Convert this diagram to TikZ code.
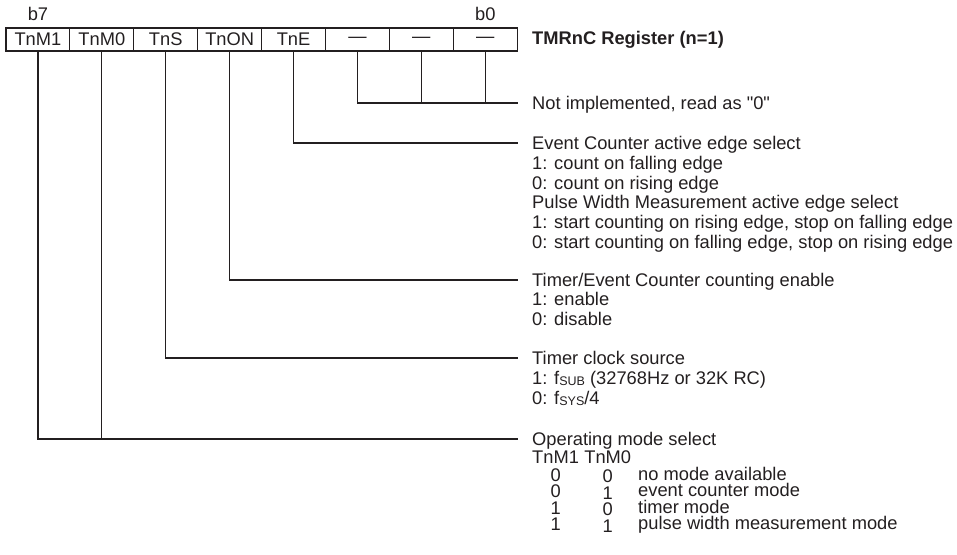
\documentclass[tikz,border=0pt]{standalone}
\usepackage{fontspec}
\setmainfont{Liberation Sans}
\usetikzlibrary{positioning}
\definecolor{regink}{HTML}{231F20}
\newcommand{\smallsub}[1]{\raisebox{-1.2pt}{\fontsize{12.5}{12.5}\selectfont #1}}

\tikzset{
  bitcell/.style={draw=regink, line width=1.1pt, minimum width=63.9pt, minimum height=23pt,
                  inner sep=0pt, outer sep=0pt, text=regink},
  lead/.style={draw=regink, line width=1.1pt},
  desc/.style={anchor=base west, align=left, inner sep=0pt, text=regink},
  descblock/.style={anchor=north west, align=left, inner sep=0pt, text=regink},
  digit/.style={anchor=base, inner sep=0pt, text=regink},
}

\begin{document}
\begin{tikzpicture}[x=1pt, y=-1pt, font=\fontsize{18.3}{19.7}\selectfont]
  \useasboundingbox (0,0) rectangle (957,554);

  % the register, b7 ... b0
  \node[bitcell] (tnm1) at (37.95,39.5)  {TnM1};
  \node[bitcell] (tnm0) at (101.85,39.5) {TnM0};
  \node[bitcell] (tns)  at (165.75,39.5) {TnS};
  \node[bitcell] (tnon) at (229.65,39.5) {TnON};
  \node[bitcell] (tne)  at (293.55,39.5) {TnE};
  \node[bitcell] (nb2)  at (357.45,39.5) {\textemdash};
  \node[bitcell] (nb1)  at (421.35,39.5) {\textemdash};
  \node[bitcell] (nb0)  at (485.25,39.5) {\textemdash};

  \node[text=regink] (b7) at (37.95,13.5)  {b7};
  \node[text=regink] (b0) at (485.25,13.5) {b0};
  \node[anchor=west, inner sep=0pt, text=regink, font=\fontsize{18.3}{19.7}\selectfont\bfseries]
    (title) at (532,39.5) {TMRnC Register (n=1)};

  % free ends of the leads
  \coordinate (niend) at (518,103);
  \coordinate (teend) at (518,143);
  \coordinate (onend) at (518,280);
  \coordinate (tsend) at (518,358);
  \coordinate (mdend) at (518,439);

  % unused bits
  \draw[lead] (nb2.south) |- (niend);
  \draw[lead] (nb1.south) -- (nb1.south |- niend);
  \draw[lead] (nb0.south) -- (nb0.south |- niend);
  \node[desc] (nidesc) at (532,109.5) {Not implemented, read as \textquotedbl 0\textquotedbl};

  % edge select
  \draw[lead] (tne.south) |- (teend);
  \node[descblock] (tedesc) at (532,136.3) {Event Counter active edge select\\
    1: count on falling edge\\
    0: count on rising edge\\
    Pulse Width Measurement active edge select\\
    1: start counting on rising edge, stop on falling edge\\
    0: start counting on falling edge, stop on rising edge};

  % counting enable
  \draw[lead] (tnon.south) |- (onend);
  \node[descblock] (ondesc) at (532,272.8) {Timer/Event Counter counting enable\\
    1: enable\\
    0: disable};

  % clock source
  \draw[lead] (tns.south) |- (tsend);
  \node[descblock] (tsdesc) at (532,351.3) {Timer clock source\\
    1: f\smallsub{SUB} (32768Hz or 32K RC)\\
    0: f\smallsub{SYS}/4};

  % operating mode
  \draw[lead] (tnm1.south) |- (mdend);
  \draw[lead] (tnm0.south) -- (tnm0.south |- mdend);
  \node[desc] (mddesc) at (532,445) {Operating mode select};

  \node[desc] (mhead1) at (532,463.5) {TnM1};
  \node[desc] (mhead0) at ([xshift=5pt]mhead1.base east) {TnM0};

  \coordinate (row1) at (0,481);
  \coordinate (row2) at (0,497.5);
  \coordinate (row3) at (0,514);
  \coordinate (row4) at (0,530.5);

  \node[digit] (r1a) at (mhead1.base |- row1) {0};
  \node[digit] (r1b) at ([yshift=-1.5pt]mhead0.base |- row1) {0};
  \node[desc]  (r1c) at (638,480) {no mode available};
  \node[digit] (r2a) at (mhead1.base |- row2) {0};
  \node[digit] (r2b) at ([yshift=-1.5pt]mhead0.base |- row2) {1};
  \node[desc]  (r2c) at (638,496.5) {event counter mode};
  \node[digit] (r3a) at (mhead1.base |- row3) {1};
  \node[digit] (r3b) at ([yshift=-1.5pt]mhead0.base |- row3) {0};
  \node[desc]  (r3c) at (638,513) {timer mode};
  \node[digit] (r4a) at (mhead1.base |- row4) {1};
  \node[digit] (r4b) at ([yshift=-1.5pt]mhead0.base |- row4) {1};
  \node[desc]  (r4c) at (638,529.5) {pulse width measurement mode};
\end{tikzpicture}
\end{document}
